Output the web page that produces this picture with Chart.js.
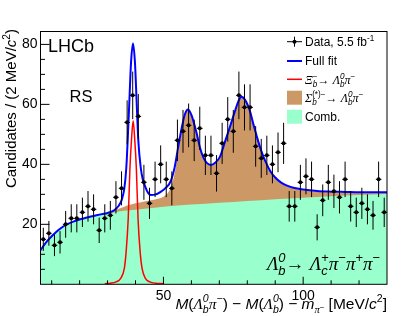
<!DOCTYPE html>
<html>
<head>
<meta charset="utf-8">
<script src="https://cdn.jsdelivr.net/npm/chart.js@4.4.0/dist/chart.umd.min.js"></script>
<style>
  html, body { margin: 0; padding: 0; background: #fff; }
</style>
</head>
<body>
<canvas id="massChart" width="407" height="316"></canvas>
<script>
// data: candidates per 2 MeV/c^2 bin
const binWidth = 2;
const binCentres = [7, 9, 11, 13, 15, 17, 19, 21, 23, 25, 27, 29, 31, 33, 35, 37, 39, 41, 43, 45,
    47, 49, 51, 53, 55, 57, 59, 61, 63, 65, 67, 69, 71, 73, 75, 77, 79, 81, 83, 85,
    87, 89, 91, 93, 95, 97, 99, 101, 103, 105, 107, 109, 111, 113, 115, 117, 119, 121, 123, 125,
    127, 129];
const candidates = [15, 17, 13, 14, 20, 22, 22, 24, 26, 25, 18, 22, 23, 29, 32, 54, 63, 56, 34, 27,
    35, 40, 35, 32, 48, 51, 53, 48, 52, 43, 43, 37, 47, 55, 51, 63, 59, 59, 46, 42,
    43, 40, 44, 47, 26, 26, 34, 36, 35, 19, 28, 34, 31, 29, 35, 26, 24, 27, 25, 23,
    35, 24];

// fit curves
const fitX = [6, 8, 10, 12, 14, 16, 18, 20, 22, 24, 26, 28, 30, 32, 33, 34, 35, 36, 36.7, 37.2,
    37.8, 38.4, 39.1, 39.8, 40.4, 41, 41.9, 42.6, 43.5, 44.5, 45.5, 47, 49, 51, 52.5, 54, 55.3, 56.5, 57.7, 58.8,
    60, 61.9, 63, 64.2, 65.5, 67, 68.5, 70.2, 72, 73.8, 75.5, 76.8, 77.9, 79.2, 80.7, 82.3, 83.5, 85, 86.5, 88.2,
    90, 92, 94, 96.5, 100, 105, 110, 115, 120, 125, 130];
const fitY = [11.4, 14, 16, 17.8, 19.2, 20.2, 21, 21.6, 22.1, 22.6, 23, 23.4, 23.8, 24.5, 25.2, 26.2, 28, 32, 38.7, 48,
    61, 74, 80.3, 74, 61, 48, 38.7, 35, 32.5, 30.5, 29.8, 29.9, 30.8, 32.3, 34.2, 39, 45.9, 52, 56.8, 58.3,
    56.5, 50.3, 45.8, 42.5, 40.5, 39.8, 40.5, 42.5, 47.5, 52.5, 57.5, 61, 62.5, 61.5, 58.5, 53, 49, 44.5, 41, 37.8,
    35.6, 34, 33, 32.2, 31.6, 31.1, 30.9, 30.8, 30.7, 30.7, 30.7];

const xiX = [29, 31, 33, 34.7, 36, 36.65, 37.4, 38, 38.55, 39.15, 39.75, 40.3, 40.9, 41.65, 42.35, 43.55, 45.15, 47.15, 50];
const xiY = [0.2, 0.35, 0.8, 2, 5.3, 10.9, 22, 38.6, 48, 54.5, 48, 38.6, 22, 10.9, 5.3, 2, 0.8, 0.35, 0.2];

// top of the Sigma_b band (stacked on the combinatorial one)
const sigmaX = [30, 32, 34, 36, 38, 40, 42, 44, 46, 48, 50, 52, 53, 54, 55.3, 56.5, 57.7, 58.8, 60, 61.9,
    63, 64.2, 65.5, 67, 68.5, 70.2, 72, 73.8, 75.5, 76.8, 77.9, 79.2, 80.7, 82.3, 83.5, 85, 86.5, 88.2, 90, 92,
    94, 96.5, 100, 105, 110, 115, 120, 125, 130];
const sigmaY = [23.6, 24.3, 25.2, 25.9, 26.5, 27, 27.4, 27.8, 28.1, 28.5, 29.2, 31, 33.2, 37, 44.5, 51.3, 56.5, 58.1, 56.3, 50.1,
    45.6, 42.3, 40.3, 39.6, 40.3, 42.3, 47.3, 52.3, 57.3, 60.8, 62.3, 61.3, 58.3, 52.8, 48.8, 44.3, 40.8, 37.6, 35.4, 33.8,
    32.8, 32, 31.4, 30.9, 30.7, 30.6, 30.5, 30.5, 30.5];

const combX = [6, 8, 10, 12, 14, 16, 18, 20, 24, 28, 32, 36, 40, 45, 50, 60, 70, 80, 90, 100, 110, 120, 130];
const combY = [11.4, 14, 16, 17.8, 19.2, 20.2, 21, 21.6, 22.5, 23.2, 23.9, 24.5, 24.9, 25.4, 25.9, 26.6, 27.2, 27.8, 28.4, 28.9, 29.4, 29.8, 30.1];

const xTickLabels = [50, 100];
const yTickLabels = [20, 40, 60, 80];

const pairs = (xs, ys) => xs.map((x, i) => ({ x: x, y: ys[i] }));

// ---- rich text (sub/superscripts) ----
const SANS = '"Liberation Sans", Arial, Helvetica, sans-serif';
const SERIF = '"Liberation Serif", "Times New Roman", serif';
const R = t => ({ t });
const I = t => ({ t, it: true });
const G = t => ({ t, it: true, serif: true });
const SUB = (t, o) => Object.assign({ t, it: true, sc: 0.68, dy: 0.28 }, o);
const SUP = (t, o) => Object.assign({ t, sc: 0.68, dy: -0.42 }, o);

function runFont(r, px) {
    return (r.it ? 'italic ' : '') + px + 'px ' + (r.serif ? SERIF : SANS);
}

function drawRich(ctx, runs, x, y, px, align) {
    let cx = 0, start = 0, end = 0;
    const placed = [];
    runs.forEach(r => {
        const sz = px * (r.sc || 1);
        ctx.font = runFont(r, sz);
        const w = ctx.measureText(r.t).width;
        const x0 = r.stack ? start : cx;
        if (!r.stack) start = x0;
        cx = Math.max(r.stack ? end : 0, x0 + w);
        end = cx;
        placed.push({ r, sz, x0 });
    });
    const off = align === 'right' ? -cx : (align === 'center' ? -cx / 2 : 0);
    ctx.textAlign = 'left';
    ctx.textBaseline = 'alphabetic';
    ctx.fillStyle = '#000';
    placed.forEach(p => {
        ctx.font = runFont(p.r, p.sz);
        ctx.fillText(p.r.t, x + off + p.x0, y + (p.r.dy || 0) * px);
    });
}

const lambdaB = [G('Λ'), SUB('b'), SUP('0', { it: true, stack: true })];
const xTitle = [I('M'), R('(')].concat(lambdaB, [G('π'), SUP('−'), R(') − '), I('M'), R('(')], lambdaB,
    [R(') − '), I('m'), SUB('π', { serif: true }), { t: '−', sc: 0.5, dy: 0.05 }, R(' [MeV/'), I('c'), SUP('2'), R(']')]);
const yTitle = [R('Candidates / (2 MeV/'), I('c'), SUP('2'), R(')')];
const decayLabel = lambdaB.concat([R('→ '), G('Λ'), SUB('c'), SUP('+', { stack: true }),
    G('π'), SUP('−'), G('π'), SUP('+'), G('π'), SUP('−')]);
const legendRows = [
    [R('Data, 5.5 fb'), SUP('-1')],
    [R('Full fit')],
    [G('Ξ'), SUB('b'), SUP('−', { stack: true }), R('→ ')].concat(lambdaB, [G('π'), SUP('−')]),
    [G('Σ'), SUB('b'), SUP('(*)−', { stack: true }), R('→ ')].concat(lambdaB, [G('π'), SUP('−')]),
    [R('Comb.')]
];

const BLUE = '#0000ff', RED = '#ff0000', BROWN = '#cc9966', MINT = '#99ffcc';

const overlay = {
    id: 'overlay',
    afterDatasetsDraw(chart) {
        const ctx = chart.ctx, xs = chart.scales.x, ys = chart.scales.y;
        ctx.save();
        ctx.strokeStyle = '#000';
        ctx.lineWidth = 1;
        binCentres.forEach((c, i) => {
            const n = candidates[i], e = Math.sqrt(n);
            const px = xs.getPixelForValue(c), py = ys.getPixelForValue(n);
            ctx.beginPath();
            ctx.moveTo(px, ys.getPixelForValue(n - e));
            ctx.lineTo(px, ys.getPixelForValue(n + e));
            ctx.moveTo(xs.getPixelForValue(c - binWidth / 2), py);
            ctx.lineTo(xs.getPixelForValue(c + binWidth / 2), py);
            ctx.stroke();
        });
        ctx.restore();
    },
    afterDraw(chart) {
        const ctx = chart.ctx, a = chart.chartArea, xs = chart.scales.x, ys = chart.scales.y;
        ctx.save();
        ctx.strokeStyle = '#000';
        ctx.lineWidth = 1;
        ctx.strokeRect(a.left, a.top, a.right - a.left, a.bottom - a.top);
        ctx.beginPath();
        for (let v = 5; v < ys.max; v += 5) {
            const py = ys.getPixelForValue(v);
            ctx.moveTo(a.left, py);
            ctx.lineTo(a.left + (v % 20 === 0 ? 9 : 4.5), py);
        }
        for (let v = 10; v < xs.max; v += 10) {
            const px = xs.getPixelForValue(v);
            ctx.moveTo(px, a.bottom);
            ctx.lineTo(px, a.bottom - (v % 50 === 0 ? 7.5 : 4));
        }
        ctx.stroke();

        // labels
        ctx.fillStyle = '#000';
        ctx.font = '18px ' + SANS;
        ctx.fillText('LHCb', 48, 51.7);
        ctx.font = '16.5px ' + SANS;
        ctx.fillText('RS', 69.5, 101.7);
        drawRich(ctx, decayLabel, 380, 270, 19, 'right');
        drawRich(ctx, xTitle, 387, 309, 15.5, 'right');
        ctx.save();
        ctx.translate(16, 29);
        ctx.rotate(-Math.PI / 2);
        drawRich(ctx, yTitle, 0, 0, 15, 'right');
        ctx.restore();

        // legend
        const sx = 287, ex = 302, cxm = 294.5, tx = 305;
        const rowMid = [41.7, 61, 79.3, 97.7, 116.7];
        ctx.beginPath();
        ctx.moveTo(sx, rowMid[0]); ctx.lineTo(ex, rowMid[0]);
        ctx.moveTo(cxm, rowMid[0] - 5); ctx.lineTo(cxm, rowMid[0] + 5);
        ctx.stroke();
        ctx.beginPath();
        ctx.arc(cxm, rowMid[0], 2, 0, Math.PI * 2);
        ctx.fill();
        ctx.lineWidth = 2;
        ctx.strokeStyle = BLUE;
        ctx.beginPath(); ctx.moveTo(sx, rowMid[1]); ctx.lineTo(ex, rowMid[1]); ctx.stroke();
        ctx.lineWidth = 1.5;
        ctx.strokeStyle = RED;
        ctx.beginPath(); ctx.moveTo(sx, rowMid[2]); ctx.lineTo(ex, rowMid[2]); ctx.stroke();
        ctx.fillStyle = BROWN;
        ctx.fillRect(sx, rowMid[3] - 7, ex - sx, 14);
        ctx.fillStyle = MINT;
        ctx.fillRect(sx, rowMid[4] - 7, ex - sx, 14);
        legendRows.forEach((row, i) => drawRich(ctx, row, tx, rowMid[i] + 4.3, 12, 'left'));
        ctx.restore();
    }
};

const curve = (pts, color, width, fill) => ({
    data: pts,
    showLine: true,
    borderColor: color,
    borderWidth: width,
    backgroundColor: fill || 'transparent',
    fill: fill ? 'origin' : false,
    pointRadius: 0,
    cubicInterpolationMode: 'monotone'
});

const tickFont = { family: SANS, size: 14 };

new Chart(document.getElementById('massChart'), {
    type: 'line',
    data: {
        datasets: [
            {
                data: pairs(binCentres, candidates),
                showLine: false,
                pointRadius: 2,
                pointBackgroundColor: '#000',
                pointBorderColor: '#000',
                pointBorderWidth: 0
            },
            curve(pairs(fitX, fitY), BLUE, 2),
            curve(pairs(xiX, xiY), RED, 1.5),
            curve(pairs(combX, combY), 'transparent', 0, MINT),
            curve(pairs(sigmaX, sigmaY), 'transparent', 0, BROWN)
        ]
    },
    options: {
        responsive: false,
        animation: false,
        events: [],
        layout: { padding: { left: 0, top: 31.5, right: 20, bottom: 0 } },
        plugins: { legend: { display: false }, tooltip: { enabled: false } },
        scales: {
            x: {
                type: 'linear', min: 6, max: 130,
                grid: { display: false, drawTicks: false },
                border: { display: false },
                ticks: { font: tickFont, color: '#000', padding: 3, maxRotation: 0, autoSkip: false },
                afterBuildTicks: s => { s.ticks = xTickLabels.map(v => ({ value: v })); },
                afterFit: s => { s.height = 31.7; }
            },
            y: {
                type: 'linear', min: 0, max: 84.3,
                grid: { display: false, drawTicks: false },
                border: { display: false },
                ticks: { font: tickFont, color: '#000', padding: 3 },
                afterBuildTicks: s => { s.ticks = yTickLabels.map(v => ({ value: v })); },
                afterFit: s => { s.width = 40.5; }
            }
        }
    },
    plugins: [overlay]
});
</script>
</body>
</html>
